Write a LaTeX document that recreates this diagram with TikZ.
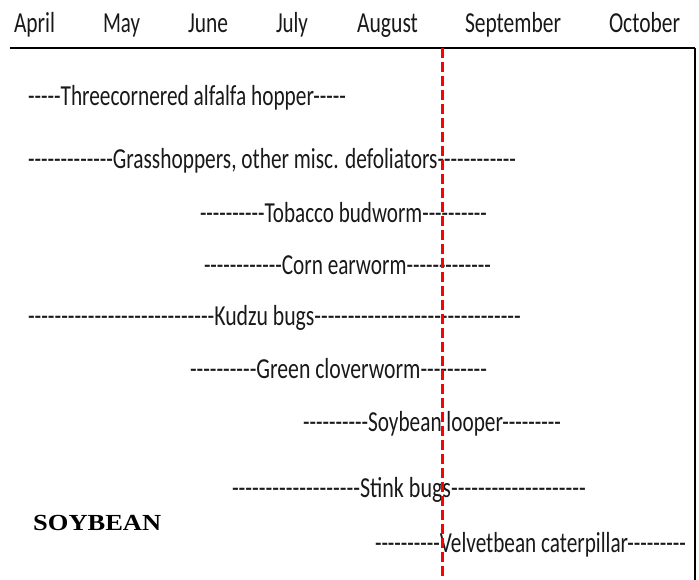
\documentclass[tikz,border=0pt]{standalone}
\usepackage{fontspec}
\setmainfont{Carlito}[Ligatures=TeXOff]
\newfontfamily\timesf{Liberation Serif}
\newlength\natw
\newcommand\fitto[2]{\settowidth\natw{#2}\pgfmathsetmacro\fitsc{#1/\natw}\scalebox{\fitsc}[1]{#2}}
\tikzset{
  lbl/.style={anchor=base west, inner sep=0pt, outer sep=0pt, text=black!90, font=\fontsize{29}{29}\selectfont},
  mon/.style={lbl},
  frameline/.style={draw=black, line width=2.6pt},
  sideline/.style={draw=black, line width=1.4pt},
  cutoff/.style={draw=red, line width=3pt, dash pattern=on 10pt off 4pt},
}
\begin{document}
\begin{tikzpicture}[x=1pt,y=-1pt]
\useasboundingbox (0,0) rectangle (699,580);
% months
\node[mon] (m1) at (14,33) {\fitto{41}{April}};
\node[mon] (m2) at (103,33) {\fitto{37}{May}};
\node[mon] (m3) at (188,33) {\fitto{40}{June}};
\node[mon] (m4) at (276,33) {\fitto{32}{July}};
\node[mon] (m5) at (357,33) {\fitto{61}{August}};
\node[mon] (m6) at (465,33) {\fitto{96}{September}};
\node[mon] (m7) at (609,33) {\fitto{71}{October}};
% frame
\coordinate (tl) at (10,48);
\coordinate (tr) at (695,48);
\coordinate (br) at (695,580);
\draw[frameline] (tl) -- (tr);
\draw[sideline] (tr) -- (br);
% rows
\node[lbl] (r1) at (28,106) {\fitto{318}{-----Threecornered alfalfa hopper-----}};
\node[lbl] (r2) at (28,169) {\fitto{488}{-------------Grasshoppers, other misc. defoliators------------}};
\node[lbl] (r3) at (200,223) {\fitto{287}{----------Tobacco budworm----------}};
\node[lbl] (r4) at (204,275) {\fitto{287}{------------Corn earworm-------------}};
\node[lbl] (r5) at (28,325) {\fitto{493}{----------------------------Kudzu bugs-------------------------------}};
\node[lbl] (r6) at (190,378) {\fitto{297}{----------Green cloverworm----------}};
\node[lbl] (r7) at (303,431) {\fitto{258}{----------Soybean looper---------}};
\node[lbl] (r8) at (232,497) {\fitto{354}{-------------------Stink bugs--------------------}};
\node[lbl] (r9) at (375,552) {\fitto{311}{----------Velvetbean caterpillar---------}};
% crop label
\node[anchor=base west, inner sep=0pt] (crop) at (33,530) {\timesf\bfseries\fontsize{23}{23}\selectfont\fitto{128}{SOYBEAN}};
% cutoff line
\coordinate (ctop) at (442,48);
\coordinate (cbot) at (442,580);
\draw[cutoff] (ctop) -- (cbot);
\end{tikzpicture}
\end{document}
